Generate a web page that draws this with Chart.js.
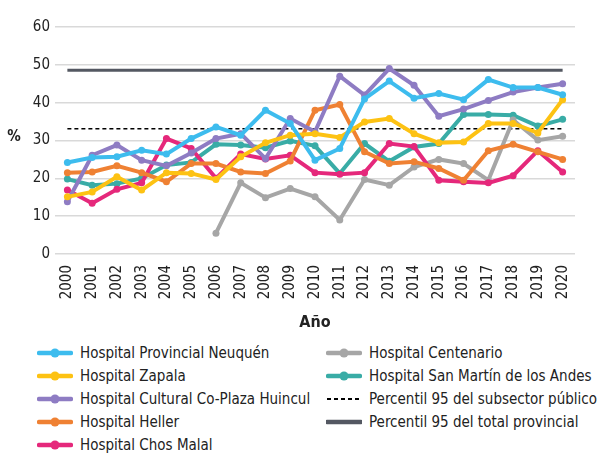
<!DOCTYPE html>
<html lang="es">
<head>
  <meta charset="UTF-8">
  <title>Hospitales Neuquén</title>
  <script src="https://cdn.jsdelivr.net/npm/chart.js"></script>
  <style>
    body { margin: 0; background: #fff; font-family: 'DejaVu Sans Condensed', sans-serif; }
    #wrap { position: relative; width: 602px; height: 454px; }
    #box { position: absolute; left: 0; top: 0; width: 602px; height: 340px; }
    #legend { position: absolute; left: 37px; top: 341px; width: 565px; font-size: 15px; color: #222; }
    .col { position: absolute; top: 0; }
    .item { height: 23px; display: flex; align-items: center; white-space: nowrap; }
    .item svg { margin-right: 7px; }
  </style>
</head>
<body>
  <div id="wrap">
    <div id="box"><canvas id="chart"></canvas></div>
    <div id="legend"></div>
  </div>

  <script>
    const FONT = "'DejaVu Sans Condensed', sans-serif";

    // data
    const years = ['2000', '2001', '2002', '2003', '2004', '2005', '2006', '2007', '2008', '2009', '2010',
                   '2011', '2012', '2013', '2014', '2015', '2016', '2017', '2018', '2019', '2020'];
    const neuquen    = [24.2, 25.5, 25.7, 27.4, 26.4, 30.5, 33.6, 31.4, 38.0, 34.5, 24.8, 27.9, 41.0, 45.7, 41.2, 42.4, 40.8, 46.1, 44.0, 44.0, 42.1];
    const zapala     = [15.1, 16.4, 20.4, 16.9, 21.5, 21.3, 19.7, 25.7, 29.4, 31.4, 31.8, 30.8, 34.9, 35.8, 31.8, 29.4, 29.6, 34.5, 34.5, 32.0, 40.8];
    const huincul    = [13.8, 26.1, 28.8, 24.8, 23.3, 26.7, 30.5, 31.8, 25.2, 35.8, 32.3, 47.0, 42.0, 49.0, 44.6, 36.4, 38.3, 40.6, 42.8, 44.0, 45.0];
    const heller     = [21.5, 21.7, 23.3, 21.5, 19.1, 23.9, 23.9, 21.7, 21.3, 24.6, 38.0, 39.5, 27.0, 23.9, 24.4, 22.6, 19.5, 27.3, 29.0, 27.0, 25.0];
    const chosMalal  = [16.9, 13.4, 17.1, 18.8, 30.5, 27.9, 20.0, 26.4, 25.1, 26.1, 21.5, 21.1, 21.5, 29.2, 28.4, 19.5, 19.1, 18.8, 20.7, 27.3, 21.7];
    const centenario = [null, null, null, null, null, null, 5.5, 18.8, 14.9, 17.3, 15.1, 9.0, 19.7, 18.2, 23.0, 25.0, 23.9, 19.5, 35.4, 30.1, 31.1];
    const sanMartin  = [19.8, 18.2, 18.6, 20.0, 23.5, 24.2, 29.0, 28.8, 28.1, 29.9, 28.6, 21.3, 29.2, 24.5, 28.3, 29.2, 36.9, 36.9, 36.7, 33.8, 35.6];
    const p95Subsector = 33.1;
    const p95Provincial = 48.6;
    const yTicks = [0, 10, 20, 30, 40, 50, 60];

    function hospital(label, data, color) {
      return {
        label: label, data: data, borderColor: color, backgroundColor: color,
        borderWidth: 4, pointRadius: 3.5, pointBorderWidth: 0, tension: 0, spanGaps: false
      };
    }

    function flat(label, value, color, dash, width) {
      return {
        label: label, data: years.map(() => value), borderColor: color, backgroundColor: color,
        borderWidth: width, borderDash: dash, pointRadius: 0, order: 10, legendDash: dash
      };
    }

    const datasets = [
      hospital('Hospital Provincial Neuquén', neuquen, '#3dbcee'),
      hospital('Hospital Zapala', zapala, '#fdc213'),
      hospital('Hospital Cultural Co-Plaza Huincul', huincul, '#8e7cc3'),
      hospital('Hospital Heller', heller, '#ef8133'),
      hospital('Hospital Chos Malal', chosMalal, '#e5287b'),
      hospital('Hospital Centenario', centenario, '#a6a6a6'),
      hospital('Hospital San Martín de los Andes', sanMartin, '#39aca6'),
      flat('Percentil 95 del subsector público', p95Subsector, '#000000', [4, 3], 1.5),
      flat('Percentil 95 del total provincial', p95Provincial, '#545862', [], 3)
    ];

    // the "%" label sits level, not rotated
    const percentLabel = {
      id: 'percentLabel',
      afterDraw(chart) {
        const ctx = chart.ctx;
        ctx.save();
        ctx.font = 'bold 15px ' + FONT;
        ctx.fillStyle = '#222';
        ctx.textAlign = 'center';
        ctx.textBaseline = 'middle';
        ctx.fillText('%', 14, 137);
        ctx.restore();
      }
    };

    const chart = new Chart(document.getElementById('chart'), {
      type: 'line',
      data: { labels: years, datasets: datasets },
      options: {
        responsive: true,
        maintainAspectRatio: false,
        animation: false,
        layout: { padding: { top: 27, right: 27, left: 0, bottom: 0 } },
        plugins: { legend: { display: false }, tooltip: { enabled: false } },
        scales: {
          x: {
            offset: true,
            grid: { display: false },
            border: { display: false },
            ticks: { color: '#222', font: { family: FONT, size: 15 }, minRotation: 90, maxRotation: 90, padding: 3 },
            title: { display: true, text: 'Año', color: '#222', font: { family: FONT, size: 16, weight: 'bold' }, padding: { top: 4, bottom: 8 } },
            afterFit(scale) { scale.height = 86; }
          },
          y: {
            min: 0, max: 60,
            afterBuildTicks(scale) { scale.ticks = yTicks.map(v => ({ value: v })); },
            grid: { color: '#d9d9d9', lineWidth: 1.5, drawTicks: false },
            border: { display: false },
            ticks: { color: '#222', font: { family: FONT, size: 15 }, padding: 5 },
            afterFit(scale) { scale.width = 55; }
          }
        }
      },
      plugins: [percentLabel]
    });

    // legend in two columns, built from the datasets
    function marker(ds) {
      const c = ds.borderColor;
      if (ds.pointRadius === 0) {
        const dash = ds.legendDash && ds.legendDash.length ? ` stroke-dasharray="${ds.legendDash.join(' ')}"` : '';
        const w = dash ? 1.8 : 4.5;
        return `<svg width="36" height="10"><line x1="1" y1="5" x2="35" y2="5" stroke="${c}" stroke-width="${w}"${dash} stroke-linecap="${dash ? 'butt' : 'round'}"/></svg>`;
      }
      return `<svg width="36" height="10"><line x1="2" y1="5" x2="34" y2="5" stroke="${c}" stroke-width="4.5" stroke-linecap="round"/><circle cx="18" cy="5" r="4.5" fill="${c}"/></svg>`;
    }

    const legend = document.getElementById('legend');
    const columns = [[0, 1, 2, 3, 4], [5, 6, 7, 8]];
    const colLeft = [0, 289];
    columns.forEach((idx, k) => {
      const col = document.createElement('div');
      col.className = 'col';
      col.style.left = colLeft[k] + 'px';
      idx.forEach(i => {
        const ds = chart.data.datasets[i];
        const row = document.createElement('div');
        row.className = 'item';
        row.innerHTML = marker(ds) + '<span>' + ds.label + '</span>';
        col.appendChild(row);
      });
      legend.appendChild(col);
    });
  </script>
</body>
</html>
